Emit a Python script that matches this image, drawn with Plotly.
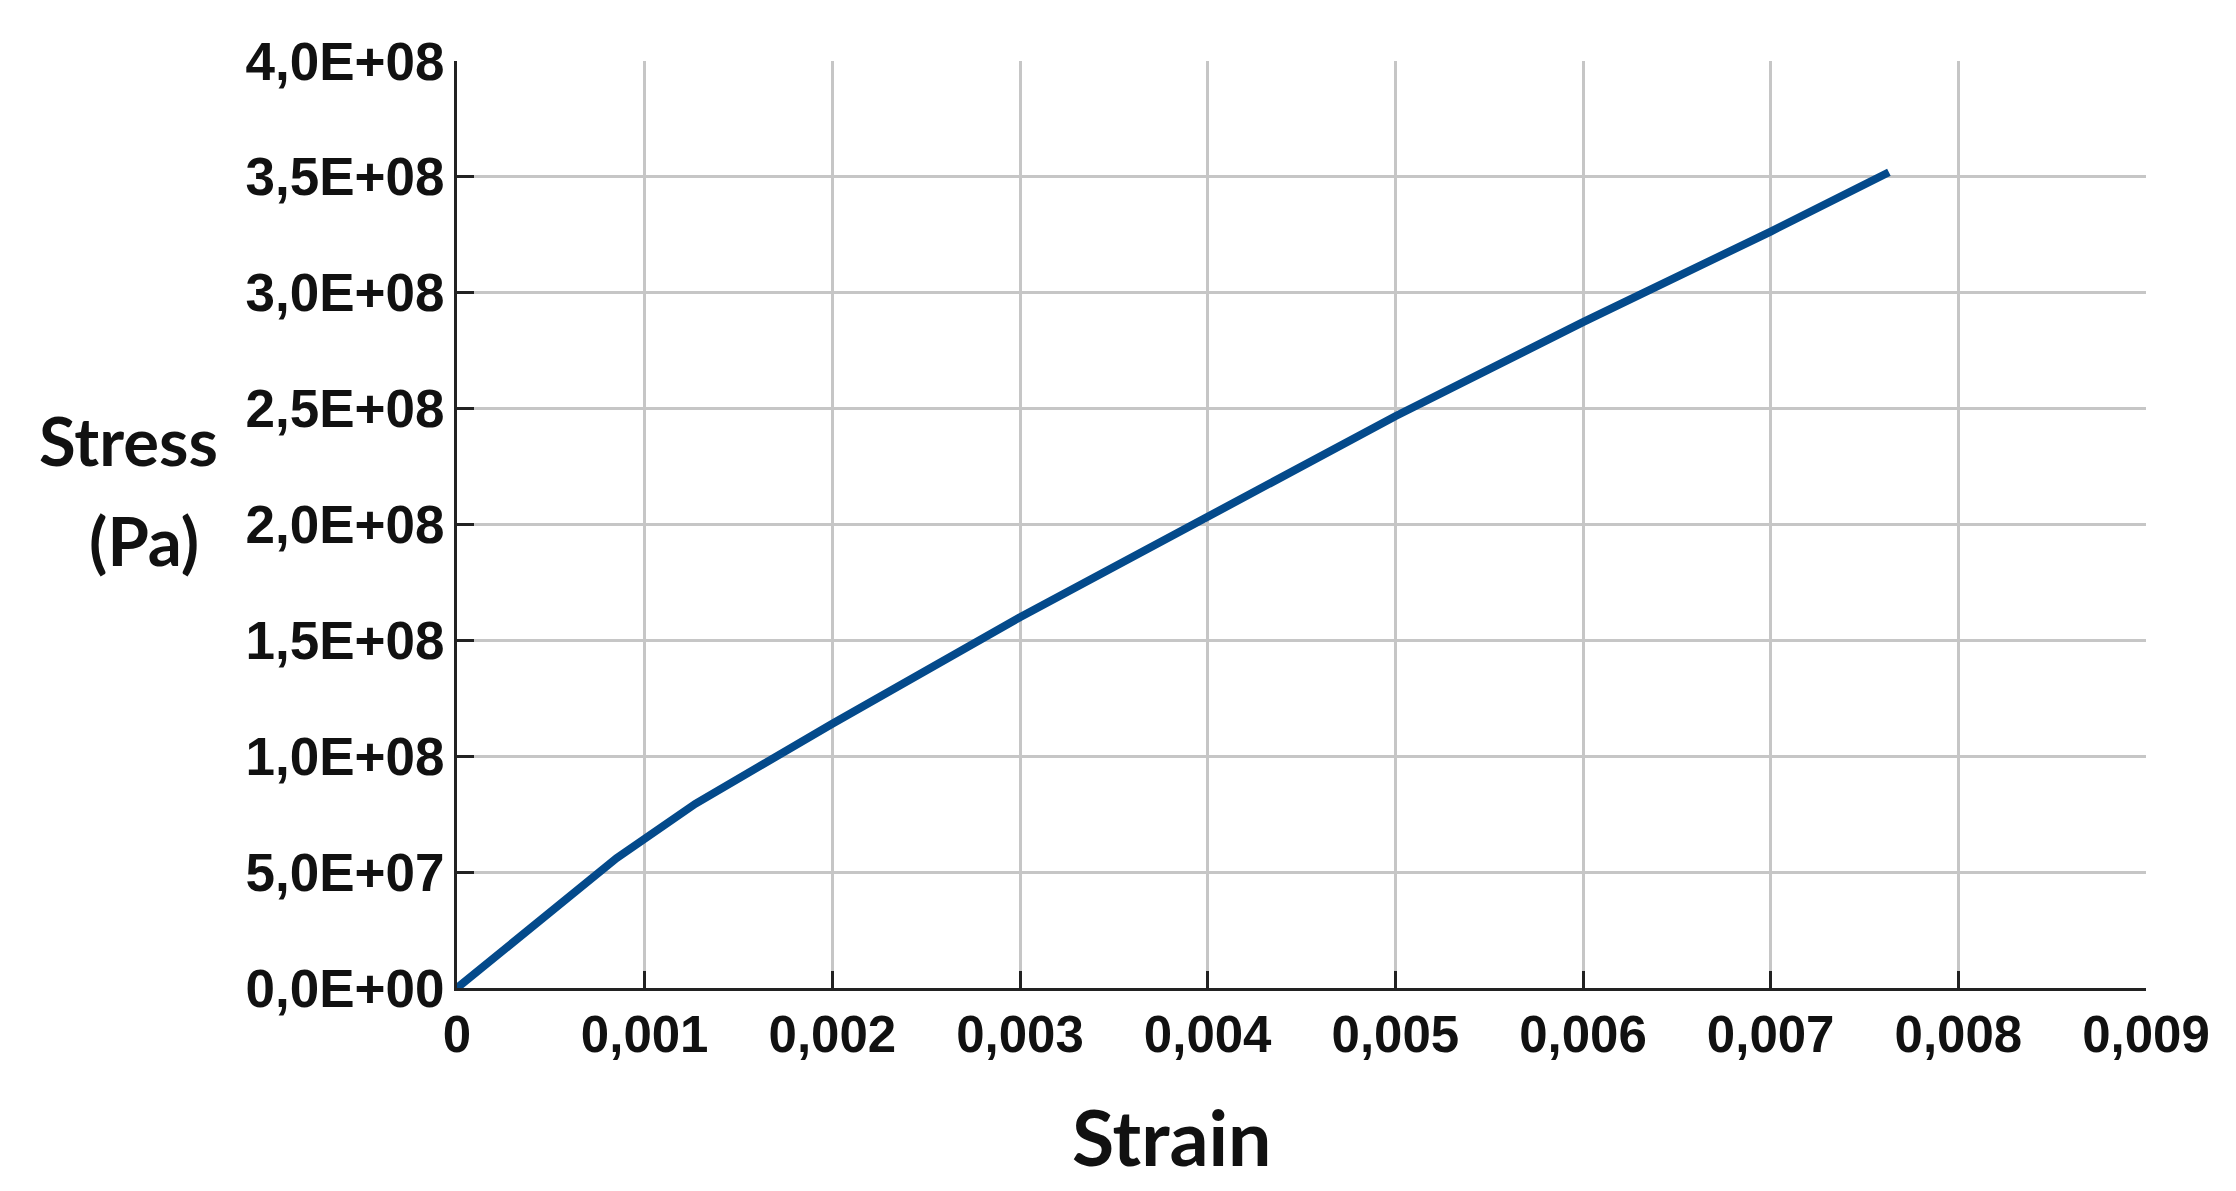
import plotly.graph_objects as go

# Data
strain = [0, 0.00085, 0.00127, 0.002, 0.003, 0.004, 0.005, 0.006, 0.007, 0.00763]
stress = [0, 5.6e7, 7.95e7, 1.14e8, 1.60e8, 2.03e8, 2.467e8, 2.873e8, 3.264e8, 3.52e8]

x_tickvals = [0, 0.001, 0.002, 0.003, 0.004, 0.005, 0.006, 0.007, 0.008, 0.009]
x_ticktext = ["0", "0,001", "0,002", "0,003", "0,004", "0,005", "0,006", "0,007", "0,008", "0,009"]
y_tickvals = [0, 5e7, 1e8, 1.5e8, 2e8, 2.5e8, 3e8, 3.5e8, 4e8]
y_ticktext = ["0,0E+00", "5,0E+07", "1,0E+08", "1,5E+08", "2,0E+08", "2,5E+08", "3,0E+08", "3,5E+08", "4,0E+08"]

W, H = 2236, 1191
L, R, T, B = 449, 2138, 53, 980

fig = go.Figure()
fig.add_trace(go.Scatter(x=strain, y=stress, mode="lines",
                         line=dict(color="#044a8b", width=8), showlegend=False))

xtickfont = dict(family="Liberation Sans", size=51, color="#111111", weight="bold")
ytickfont = dict(family="Liberation Sans", size=53, color="#111111", weight="bold")

common = dict(showgrid=True, gridcolor="#c6c6c6", gridwidth=3,
              showline=True, linecolor="#222222", linewidth=3,
              ticks="inside", ticklen=17, tickwidth=3, tickcolor="#222222",
              zeroline=False)

fig.update_layout(
    width=W, height=H,
    margin=dict(l=L, r=W - R, t=T, b=H - B, autoexpand=False),
    paper_bgcolor="white", plot_bgcolor="white",
    xaxis=dict(range=[0, 0.009], tickvals=x_tickvals, ticktext=x_ticktext,
               tickfont=xtickfont, **common),
    yaxis=dict(range=[0, 4e8], tickvals=y_tickvals, ticktext=y_ticktext,
               tickfont=ytickfont, ticklabelstandoff=-1, **common),
)

def px_x(p):
    return (p - L) / (R - L)

def px_y(p):
    return (B - p) / (B - T)

titlefont = dict(family="Lato", color="#111111", weight="bold")
fig.add_annotation(text="Stress", xref="paper", yref="paper", x=px_x(120), y=px_y(432),
                   xanchor="center", yanchor="middle", showarrow=False,
                   font=dict(size=67, **titlefont))
fig.add_annotation(text="(Pa)", xref="paper", yref="paper", x=px_x(136), y=px_y(532),
                   xanchor="center", yanchor="middle", showarrow=False,
                   font=dict(size=67, **titlefont))
fig.add_annotation(text="Strain", xref="paper", yref="paper", x=px_x(1163), y=px_y(1128),
                   xanchor="center", yanchor="middle", showarrow=False,
                   font=dict(size=77, **titlefont))

fig.write_html("out.html")
